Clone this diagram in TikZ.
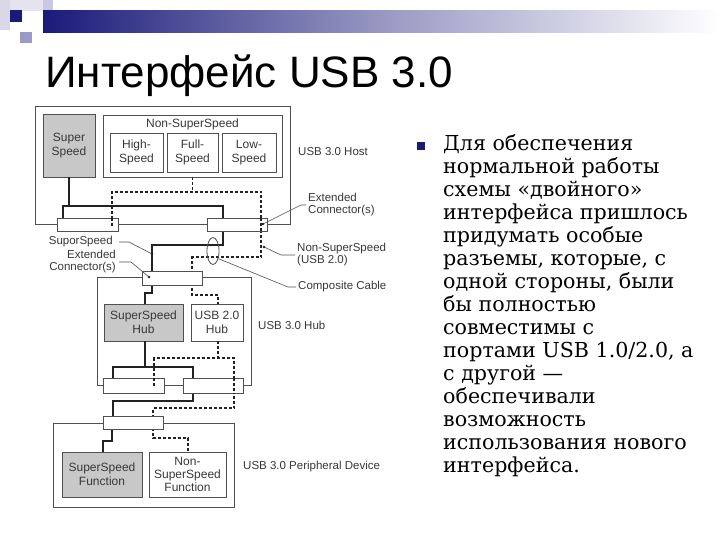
\documentclass[tikz,border=0pt]{standalone}
\usepackage{fontspec}
\setmainfont{Liberation Sans}
\newfontfamily\bodyserif{DejaVu Serif}
\usetikzlibrary{calc,shapes.geometric}
\definecolor{navy}{HTML}{1A1A7A}
\definecolor{ssgray}{HTML}{C8C8C8}
\definecolor{linegray}{HTML}{505050}
\definecolor{textgray}{HTML}{383838}
\definecolor{wire}{HTML}{222222}
\definecolor{decoA}{HTML}{E4E4EE}
\definecolor{decoB}{HTML}{D8D8E8}
\definecolor{decoC}{HTML}{C8C8E0}
\definecolor{decoD}{HTML}{9A9AC8}
\begin{document}
\begin{tikzpicture}[x=1pt,y=-1pt,
  box/.style={draw=linegray, line width=0.8pt, fill=white, inner sep=0pt, align=center,
    font=\fontsize{12}{14}\selectfont, text=textgray},
  ssbox/.style={box, fill=ssgray},
  outer/.style={draw=linegray, line width=0.8pt, inner sep=0pt},
  conn/.style={draw=linegray, line width=0.8pt, fill=white, inner sep=0pt},
  sl/.style={line width=1.8pt, draw=wire},
  dl/.style={line width=1.4pt, dash pattern=on 3pt off 2pt, draw=wire},
  lbl/.style={font=\fontsize{11.5}{12}\selectfont, text=textgray, inner sep=0pt, align=left},
  lead/.style={draw=linegray, line width=0.6pt},
]
\useasboundingbox (0,0) rectangle (720,540);
\fill[white] (0,0) rectangle (720,540);
% decoration
\fill[decoA] (0,0) rectangle (43,11);
\fill[decoB] (0,0) rectangle (10,30);
\fill[decoC] (43,0) rectangle (53,33);
\fill[navy] (10,10) rectangle (22,22);
\fill[decoD] (20,32) rectangle (32,43);
\shade[left color=navy, right color=white, middle color=navy!45!white] (43,11) rectangle (720,33);

% title
\node[anchor=base west, font=\fontsize{44}{50}\selectfont, inner sep=0pt] (title) at (45,88) {Интерфейс USB 3.0};

% outer boxes
\node[outer, minimum width=255, minimum height=118] (host) at (162.5,165) {};
\node[outer, minimum width=154, minimum height=108] (hub) at (174,331) {};
\node[outer, minimum width=181, minimum height=84] (dev) at (143.5,465) {};

% host contents
\node[ssbox, minimum width=52, minimum height=63] (ss) at (69,145.5) {Super\\Speed};
\node[box, minimum width=179, minimum height=62] (nss) at (192.5,146) {};
\node[box, draw=none, fill=none, anchor=center] (nsslbl) at (192.5,124) {Non-SuperSpeed};
\node[box, minimum width=53, minimum height=39] (hs) at (136.5,152.5) {High-\\Speed};
\node[box, minimum width=51, minimum height=39] (fs) at (192.5,152.5) {Full-\\Speed};
\node[box, minimum width=54, minimum height=39] (ls) at (249,152.5) {Low-\\Speed};

% hub contents
\node[ssbox, minimum width=79, minimum height=37] (ssh) at (143.5,322.5) {SuperSpeed\\Hub};
\node[box, minimum width=52, minimum height=37] (u2h) at (217,322.5) {USB 2.0\\Hub};

% device contents
\node[ssbox, minimum width=80, minimum height=45] (ssf) at (102,474.5) {SuperSpeed\\Function};
\node[box, minimum width=77, minimum height=45, font=\fontsize{12}{13}\selectfont] (nssf) at (187.5,474.5) {Non-\\SuperSpeed\\Function};

% coordinates
\coordinate (hb1) at (63,206); \coordinate (hb2) at (223,206);
\coordinate (c1) at (223,245); \coordinate (c2) at (152,245);
\coordinate (j1) at (152,293); \coordinate (j2) at (145,293);
\coordinate (hb3) at (113,367); \coordinate (hb4) at (193,367);
\coordinate (c3) at (193,401); \coordinate (c4) at (113,401);
\coordinate (j3) at (112,441); \coordinate (j4) at (103,441);
\coordinate (hd1) at (112,192); \coordinate (hd2) at (261,192);
\coordinate (e1) at (261,257); \coordinate (e2) at (192,257);
\coordinate (k1) at (192,295); \coordinate (k2) at (218,295);
\coordinate (hd3) at (154,358); \coordinate (hd4) at (234,358);
\coordinate (e3) at (234,408); \coordinate (e4) at (153,408);
\coordinate (k3) at (153,438); \coordinate (k4) at (188,438);

% connectors (positions)
\path (87.5,224.5) coordinate (phcL) (237,224.5) coordinate (phcR) (172,278) coordinate (pubc)
      (133.5,385.5) coordinate (phdL) (213,385.5) coordinate (phdR) (133,422.5) coordinate (pdvc);

% solid wires
\draw[sl] (ss.south) -- (ss.south |- hb1);
\draw[sl] (phcL -| hb1) -- (hb1) -- (hb2) -- (phcR -| hb2);
\draw[sl] (phcR -| c1) -- (c1) -- (c2) -- (pubc -| c2);
\draw[sl] (pubc -| j1) -- (j1) -- (j2) -- (ssh.north -| j2);
\draw[sl] (ssh.south -| j2) -- (j2 |- hb3);
\draw[sl] (phdL -| hb3) -- (hb3) -- (hb4) -- (phdR -| hb4);
\draw[sl] (phdR -| c3) -- (c3) -- (c4) -- (pdvc -| c4);
\draw[sl] (pdvc -| j3) -- (j3) -- (j4) -- (ssf.north -| j4);
% dashed wires
\draw[dl] (nss.south) -- (nss.south |- hd1);
\draw[dl] (phcL -| hd1) -- (hd1) -- (hd2) -- (phcR -| hd2);
\draw[dl] (phcR -| e1) -- (e1) -- (e2) -- (pubc -| e2);
\draw[dl] (pubc -| k1) -- (k1) -- (k2) -- (u2h.north -| k2);
\draw[dl] (u2h.south -| k2) -- (k2 |- hd3);
\draw[dl] (phdL -| hd3) -- (hd3) -- (hd4) -- (phdR -| hd4);
\draw[dl] (phdR -| e3) -- (e3) -- (e4) -- (pdvc -| e4);
\draw[dl] (pdvc -| k3) -- (k3) -- (k4) -- (nssf.north -| k4);

% connector boxes
\node[conn, minimum width=61, minimum height=13] (hcL) at (phcL) {};
\node[conn, minimum width=60, minimum height=13] (hcR) at (phcR) {};
\node[conn, minimum width=60, minimum height=14] (ubc) at (pubc) {};
\node[conn, minimum width=61, minimum height=15] (hdL) at (phdL) {};
\node[conn, minimum width=60, minimum height=15] (hdR) at (phdR) {};
\node[conn, minimum width=60, minimum height=13] (dvc) at (pdvc) {};
% dashed parts visible inside connectors
\draw[dl] (hcR.north -| hd2) -- (hcR.south -| hd2);
\draw[dl] (hcL.north -| hd1) -- ($(hcL.center -| hd1)+(0,3)$);
\draw[dl] (hdL.north -| hd3) -- ($(hdL.center -| hd3)$);
\draw[dl] (hdR.north -| hd4) -- (hdR.south -| hd4);

% composite cable ellipse
\node[draw=linegray, line width=0.8pt, ellipse, minimum width=12, minimum height=27, inner sep=0pt] (cable) at (213,251) {};

% labels
\node[lbl, anchor=west] (lhost) at (298,152) {USB 3.0 Host};
\node[lbl, anchor=west] (lext) at (308,205) {Extended\\Connector(s)};
\node[lbl, anchor=west] (lnss) at (297,255) {Non-SuperSpeed\\(USB 2.0)};
\node[lbl, anchor=west] (lcab) at (298,287) {Composite Cable};
\node[lbl, anchor=east] (lss) at (113,242) {SuporSpeed};
\node[lbl, anchor=east, align=right] (lsec) at (116,262) {Extended\\Connector(s)};
\node[lbl, anchor=west] (lhub) at (258,325) {USB 3.0 Hub};
\node[lbl, anchor=west] (ldev) at (243,467) {USB 3.0 Peripheral Device};

% leaders
\coordinate (dext) at (263,224);
\coordinate (dnss) at (264,247);
\coordinate (dss) at (152,254);
\coordinate (dsec) at (149,277);
\draw[lead] ([xshift=-2pt]lext.west) -- ++(-5,0) -- (dext);
\draw[lead] ([xshift=-2pt]lnss.west) -- ++(-14,0) -- (dnss);
\draw[lead] ([xshift=-2pt]lcab.west) -- ++(-8,0) -- (cable.-55);
\draw[lead] ([xshift=6pt]lss.east) -- ++(10,0) -- (dss);
\draw[lead] ([xshift=3pt]lsec.east) -- ++(12,0) -- (dsec);
\foreach \p in {dext,dnss,dss,dsec} \fill[wire] (\p) circle (1.4);

% bullet text
\node[fill=navy, minimum size=8, inner sep=0pt] (bul) at (421,146) {};
\node[anchor=north west, inner sep=0pt, align=left, font=\bodyserif\fontsize{20.6}{23}\selectfont] (txt) at (443,134)
{Для обеспечения\\нормальной работы\\схемы «двойного»\\интерфейса пришлось\\придумать особые\\разъемы, которые, с\\одной стороны, были\\бы полностью\\совместимы с\\портами USB 1.0/2.0, а\\с другой —\\обеспечивали\\возможность\\использования нового\\интерфейса.};
\end{tikzpicture}
\end{document}
